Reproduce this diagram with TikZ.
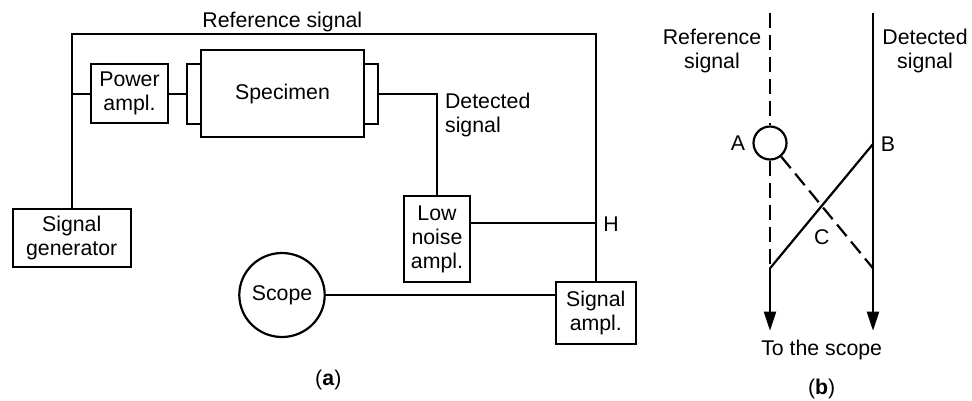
\documentclass[tikz,border=0pt]{standalone}
\usepackage{fontspec}
\setmainfont{Liberation Sans}
\usetikzlibrary{arrows.meta,shapes.geometric,calc}
\begin{document}
\begin{tikzpicture}[x=1pt,y=-1pt, line width=2.2pt,
  font=\fontsize{21.3}{24}\selectfont,
  box/.style={draw, rectangle, inner sep=0pt, align=center},
  lbl/.style={inner sep=0pt, align=center},
  dsh/.style={dash pattern=on 15pt off 7pt},
  tip/.style={-{Triangle[length=19pt,width=12pt]}}
]
\useasboundingbox (0,0) rectangle (972,400);
% ---------- (a) ----------
\node[box, minimum width=118pt, minimum height=58pt] (sg) at (71.7,238) {Signal\\generator};
\node[box, minimum width=77pt, minimum height=59pt] (pa) at (129.5,93.7) {Power\\ampl.};
\node[box, minimum width=13.7pt, minimum height=60pt] (lf) at (194.2,93.7) {};
\node[box, minimum width=13.7pt, minimum height=60pt] (rf) at (370.8,93.7) {};
\node[box, fill=white, minimum width=163pt, minimum height=87pt] (sp) at (282.5,93.7) {Specimen};
\node[box, minimum width=66pt, minimum height=86.6pt] (lna) at (437,239) {Low\\noise\\ampl.};
\node[box, minimum width=79.7pt, minimum height=62.6pt] (sa) at (595.8,313) {Signal\\ampl.};
\node[draw, ellipse, inner sep=0pt, minimum width=76pt, minimum height=84pt] (sc) at (282,295) {Scope};
\coordinate (top) at (0,34);
\draw (sg.north) -- (sg.north |- top) -- (sa.north |- top) -- (sa.north);
\draw (sg.north |- pa.west) -- (pa.west);
\draw (pa.east) -- (lf.west);
\draw (rf.east) -| (lna.north);
\draw ([yshift=16.3pt]lna.east) -- ([yshift=16.3pt]lna.east -| sa.north);
\draw (sc.east) -- (sc.east -| sa.west);
\node[lbl, anchor=base] (reflbl) at (282.3,27.7) {Reference signal};
\node[lbl, anchor=west, align=left] (detlbl) at (444,114.5) {Detected\\signal};
\node[lbl, anchor=base] (hl) at (611,231.7) {H};
\node[lbl, anchor=base] (la) at (328.3,385) {(\textbf{a})};
% ---------- (b) ----------
\coordinate (rtop) at (770,13.3);
\coordinate (dtop) at (873,13.3);
\node[draw, circle, inner sep=0pt, minimum size=33pt] (A) at (770,143) {};
\coordinate (L) at (770,268.3);
\coordinate (R) at (873,268.3);
\coordinate (B) at (873,144);
\coordinate (lend) at (770,330.7);
\coordinate (rend) at (873,330.7);
\draw[dsh] (rtop) -- (A.north);
\draw[dsh] (A.south) -- (L);
\draw[tip] (L) -- (lend);
\draw[tip] (dtop) -- (rend);
\draw (B) -- (L);
\draw[dsh] (A) -- (R);
\node[lbl] (refb) at (712,51.1) {Reference\\signal};
\node[lbl] (detb) at (925,51.1) {Detected\\signal};
\node[lbl] (la2) at (738,143) {A};
\node[lbl] (lb2) at (888,144) {B};
\node[lbl] (lc2) at (821.7,237) {C};
\node[lbl, anchor=base] (tosc) at (821.7,355) {To the scope};
\node[lbl, anchor=base] (lbb) at (821.7,394) {(\textbf{b})};
\end{tikzpicture}
\end{document}
